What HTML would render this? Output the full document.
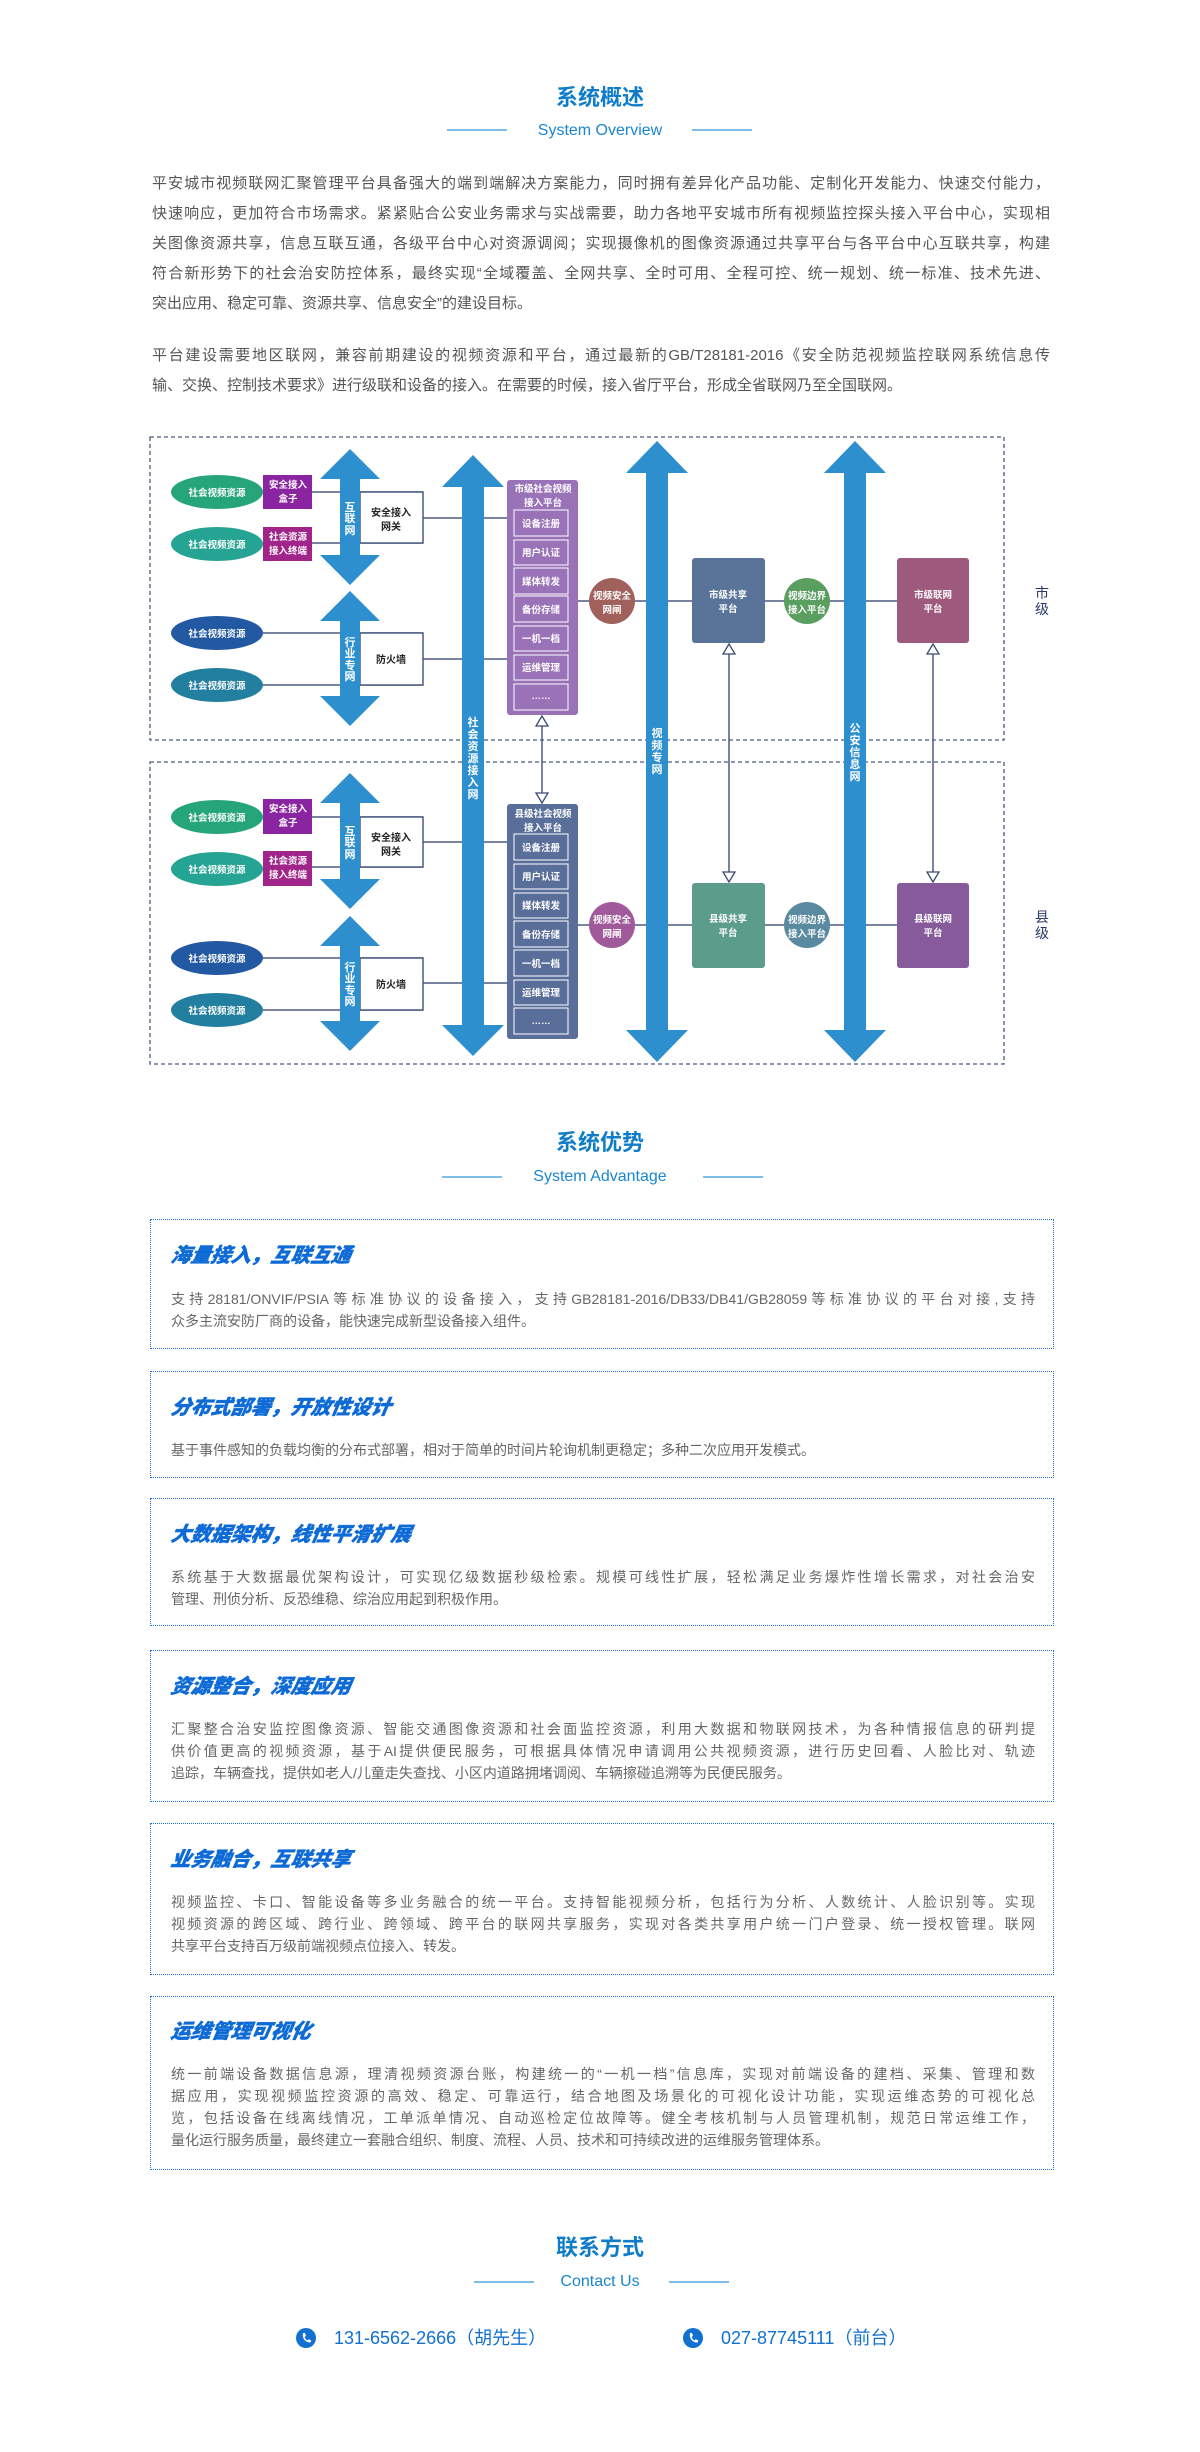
<!DOCTYPE html>
<html><head><meta charset="utf-8">
<style>
*{margin:0;padding:0;box-sizing:border-box}
body{width:1200px;height:2452px;position:relative;background:#fff;font-family:"Liberation Sans","Noto Sans CJK SC",sans-serif;overflow:hidden}
.abs{position:absolute}
.t1{position:absolute;left:0;width:1200px;text-align:center;color:#0f7cc9;font-size:22px;line-height:28px;font-weight:bold}
.t2{position:absolute;left:0;width:1200px;text-align:center;color:#1a86d0;font-size:16px;line-height:20px}
.ln{position:absolute;height:2px;background:#7dbde8}
.p{position:absolute;left:152px;width:898px;color:#555;font-size:15px;line-height:30px}
.p div{text-align:justify;text-align-last:justify;white-space:nowrap}
.p div.l{text-align-last:left}
.box{position:absolute;left:150px;width:904px;border:1px dotted #1f6fd6}
.box h3{position:absolute;left:20px;font-size:20px;font-weight:900;font-style:italic;color:#0d6ad6;line-height:24px;transform:skewX(-10deg);-webkit-text-stroke:0.4px #0d6ad6}
.bt{position:absolute;left:20px;width:864px;color:#666;font-size:14px;line-height:22px}
.bt div{text-align:justify;text-align-last:justify;white-space:nowrap}
.bt div.l{text-align-last:left}
.ph{position:absolute;font-size:18px;color:#1170d0;line-height:24px}
</style></head><body>

<div class="t1" style="top:84px">系统概述</div>
<div class="ln" style="left:447px;width:60px;top:129px"></div>
<div class="ln" style="left:692px;width:60px;top:129px"></div>
<div class="t2" style="top:121px">System Overview</div>

<div class="p" style="top:169px">
<div>平安城市视频联网汇聚管理平台具备强大的端到端解决方案能力，同时拥有差异化产品功能、定制化开发能力、快速交付能力，</div>
<div>快速响应，更加符合市场需求。紧紧贴合公安业务需求与实战需要，助力各地平安城市所有视频监控探头接入平台中心，实现相</div>
<div>关图像资源共享，信息互联互通，各级平台中心对资源调阅；实现摄像机的图像资源通过共享平台与各平台中心互联共享，构建</div>
<div>符合新形势下的社会治安防控体系，最终实现“全域覆盖、全网共享、全时可用、全程可控、统一规划、统一标准、技术先进、</div>
<div class="l">突出应用、稳定可靠、资源共享、信息安全”的建设目标。</div>
</div>
<div class="p" style="top:341px">
<div>平台建设需要地区联网，兼容前期建设的视频资源和平台，通过最新的GB/T28181-2016《安全防范视频监控联网系统信息传</div>
<div class="l">输、交换、控制技术要求》进行级联和设备的接入。在需要的时候，接入省厅平台，形成全省联网乃至全国联网。</div>
</div>

<svg class="abs" style="left:0;top:0" width="1200" height="1080" viewBox="0 0 1200 1080" font-family="Liberation Sans, Noto Sans CJK SC, sans-serif">
<g fill="none" stroke="#4a5a80" stroke-width="1.3" stroke-dasharray="4,3">
<rect x="150" y="437" width="854" height="303"/>
<rect x="150" y="762" width="854" height="302"/>
</g>
<g stroke="#4a5a80" stroke-width="1.5" fill="none">
<line x1="312" y1="492" x2="423" y2="492"/><line x1="312" y1="543" x2="423" y2="543"/>
<line x1="263" y1="633" x2="423" y2="633"/><line x1="263" y1="685" x2="423" y2="685"/>
<line x1="423" y1="518" x2="507" y2="518"/><line x1="423" y1="659" x2="507" y2="659"/>
<line x1="578" y1="601" x2="897" y2="601"/>
<line x1="312" y1="817" x2="423" y2="817"/><line x1="312" y1="867" x2="423" y2="867"/>
<line x1="263" y1="958" x2="423" y2="958"/><line x1="263" y1="1010" x2="423" y2="1010"/>
<line x1="423" y1="842" x2="507" y2="842"/><line x1="423" y1="983" x2="507" y2="983"/>
<line x1="578" y1="925" x2="897" y2="925"/>
<line x1="542" y1="726" x2="542" y2="793"/>
<line x1="729" y1="654" x2="729" y2="872"/>
<line x1="933" y1="654" x2="933" y2="872"/>
</g>
<g fill="#fff" stroke="#3a4a70" stroke-width="1.3">
<polygon points="542,716 536,726 548,726"/><polygon points="542,803 536,793 548,793"/>
<polygon points="729,644 723,654 735,654"/><polygon points="729,882 723,872 735,872"/>
<polygon points="933,644 927,654 939,654"/><polygon points="933,882 927,872 939,872"/>
</g>
<g fill="#fff" stroke="#4a5a80" stroke-width="1.5">
<rect x="360" y="492" width="63" height="51"/><rect x="360" y="633" width="63" height="52"/>
<rect x="360" y="817" width="63" height="50"/><rect x="360" y="958" width="63" height="52"/>
</g>
<g fill="#2e8fcf">
<path d="M350,449 L380,479 L360,479 L360,555 L380,555 L350,585 L320,555 L340,555 L340,479 L320,479Z"/>
<path d="M350,591 L380,621 L360,621 L360,696 L380,696 L350,726 L320,696 L340,696 L340,621 L320,621Z"/>
<path d="M350,773 L380,803 L360,803 L360,879 L380,879 L350,909 L320,879 L340,879 L340,803 L320,803Z"/>
<path d="M350,916 L380,946 L360,946 L360,1021 L380,1021 L350,1051 L320,1021 L340,1021 L340,946 L320,946Z"/>
<path d="M473,455 L504,487 L484,487 L484,1025 L504,1025 L473,1056 L442,1025 L462,1025 L462,487 L442,487Z"/>
<path d="M657,441 L688,473 L668,473 L668,1030 L688,1030 L657,1062 L626,1030 L646,1030 L646,473 L626,473Z"/>
<path d="M855,441 L886,473 L866,473 L866,1030 L886,1030 L855,1062 L824,1030 L844,1030 L844,473 L824,473Z"/>
</g>
<g fill="#fff" font-size="11" font-weight="bold" text-anchor="middle">
<text x="350" y="511">互</text><text x="350" y="522">联</text><text x="350" y="534">网</text>
<text x="350" y="646">行</text><text x="350" y="657">业</text><text x="350" y="669">专</text><text x="350" y="680">网</text>
<text x="350" y="835">互</text><text x="350" y="846">联</text><text x="350" y="858">网</text>
<text x="350" y="971">行</text><text x="350" y="982">业</text><text x="350" y="994">专</text><text x="350" y="1005">网</text>
<text x="473" y="726">社</text><text x="473" y="738">会</text><text x="473" y="750">资</text><text x="473" y="762">源</text><text x="473" y="774">接</text><text x="473" y="786">入</text><text x="473" y="798">网</text>
<text x="657" y="737">视</text><text x="657" y="749">频</text><text x="657" y="761">专</text><text x="657" y="773">网</text>
<text x="855" y="732">公</text><text x="855" y="744">安</text><text x="855" y="756">信</text><text x="855" y="768">息</text><text x="855" y="780">网</text>
</g>
<g fill="#222" font-size="10" font-weight="bold" text-anchor="middle">
<text x="391" y="516">安全接入</text><text x="391" y="530">网关</text>
<text x="391" y="663">防火墙</text>
<text x="391" y="841">安全接入</text><text x="391" y="855">网关</text>
<text x="391" y="988">防火墙</text>
</g>
<ellipse cx="217" cy="492" rx="46" ry="17" fill="#27a57a"/>
<ellipse cx="217" cy="544" rx="46" ry="17" fill="#26a493"/>
<ellipse cx="217" cy="633" rx="46" ry="17" fill="#2358a3"/>
<ellipse cx="217" cy="685" rx="46" ry="17" fill="#237fa0"/>
<ellipse cx="217" cy="817" rx="46" ry="17" fill="#27a57a"/>
<ellipse cx="217" cy="869" rx="46" ry="17" fill="#26a493"/>
<ellipse cx="217" cy="958" rx="46" ry="17" fill="#2358a3"/>
<ellipse cx="217" cy="1010" rx="46" ry="17" fill="#237fa0"/>
<rect x="263" y="475" width="49" height="34" fill="#8a24a0"/>
<rect x="263" y="527" width="49" height="34" fill="#a0248a"/>
<rect x="263" y="799" width="49" height="35" fill="#8a24a0"/>
<rect x="263" y="851" width="49" height="35" fill="#a0248a"/>
<g fill="#fff" font-size="9.5" font-weight="bold" text-anchor="middle">
<text x="217" y="496">社会视频资源</text><text x="217" y="548">社会视频资源</text><text x="217" y="637">社会视频资源</text><text x="217" y="689">社会视频资源</text>
<text x="217" y="821">社会视频资源</text><text x="217" y="873">社会视频资源</text><text x="217" y="962">社会视频资源</text><text x="217" y="1014">社会视频资源</text>
<text x="288" y="488">安全接入</text><text x="288" y="502">盒子</text>
<text x="288" y="540">社会资源</text><text x="288" y="554">接入终端</text>
<text x="288" y="812">安全接入</text><text x="288" y="826">盒子</text>
<text x="288" y="864">社会资源</text><text x="288" y="878">接入终端</text>
</g>
<rect x="507" y="480" width="71" height="235" rx="3" fill="#9a72b8"/>
<rect x="507" y="804" width="71" height="235" rx="3" fill="#5a6e9a"/>
<g fill="none" stroke="#fff" stroke-width="1">
<rect x="514" y="510" width="54" height="26"/><rect x="514" y="540" width="54" height="25"/><rect x="514" y="568" width="54" height="26"/><rect x="514" y="596" width="54" height="26"/><rect x="514" y="626" width="54" height="25"/><rect x="514" y="655" width="54" height="25"/><rect x="514" y="684" width="54" height="26"/>
<rect x="514" y="834" width="54" height="26"/><rect x="514" y="864" width="54" height="25"/><rect x="514" y="893" width="54" height="25"/><rect x="514" y="921" width="54" height="26"/><rect x="514" y="950" width="54" height="26"/><rect x="514" y="980" width="54" height="25"/><rect x="514" y="1008" width="54" height="26"/>
</g>
<g fill="#fff" font-size="9.5" font-weight="bold" text-anchor="middle">
<text x="543" y="492">市级社会视频</text><text x="543" y="506">接入平台</text>
<text x="541" y="527">设备注册</text><text x="541" y="556">用户认证</text><text x="541" y="585">媒体转发</text><text x="541" y="613">备份存储</text><text x="541" y="642">一机一档</text><text x="541" y="671">运维管理</text><text x="541" y="699">……</text>
<text x="543" y="817">县级社会视频</text><text x="543" y="831">接入平台</text>
<text x="541" y="851">设备注册</text><text x="541" y="880">用户认证</text><text x="541" y="909">媒体转发</text><text x="541" y="938">备份存储</text><text x="541" y="967">一机一档</text><text x="541" y="996">运维管理</text><text x="541" y="1024">……</text>
</g>
<circle cx="612" cy="601" r="23" fill="#a0605c"/>
<circle cx="807" cy="601" r="23" fill="#5a9e60"/>
<circle cx="612" cy="925" r="23" fill="#a0599a"/>
<circle cx="807" cy="925" r="23" fill="#5a8aa0"/>
<rect x="692" y="558" width="73" height="85" rx="3" fill="#5a7399"/>
<rect x="897" y="558" width="72" height="85" rx="3" fill="#9e5a7c"/>
<rect x="692" y="883" width="73" height="85" rx="3" fill="#5b9c8a"/>
<rect x="897" y="883" width="72" height="85" rx="3" fill="#875a9c"/>
<g fill="#fff" font-size="9.5" font-weight="bold" text-anchor="middle">
<text x="612" y="599">视频安全</text><text x="612" y="613">网闸</text>
<text x="807" y="599">视频边界</text><text x="807" y="613">接入平台</text>
<text x="728" y="598">市级共享</text><text x="728" y="612">平台</text>
<text x="933" y="598">市级联网</text><text x="933" y="612">平台</text>
<text x="612" y="923">视频安全</text><text x="612" y="937">网闸</text>
<text x="807" y="923">视频边界</text><text x="807" y="937">接入平台</text>
<text x="728" y="922">县级共享</text><text x="728" y="936">平台</text>
<text x="933" y="922">县级联网</text><text x="933" y="936">平台</text>
</g>
<g fill="#2a3a6a" font-size="14" text-anchor="middle">
<text x="1042" y="598">市</text><text x="1042" y="614">级</text>
<text x="1042" y="922">县</text><text x="1042" y="938">级</text>
</g>
</svg>

<div class="t1" style="top:1129px">系统优势</div>
<div class="ln" style="left:442px;width:60px;top:1176px"></div>
<div class="ln" style="left:703px;width:60px;top:1176px"></div>
<div class="t2" style="top:1167px">System Advantage</div>

<div class="box" style="top:1219px;height:130px">
<h3 style="top:24px">海量接入，互联互通</h3>
<div class="bt" style="top:68px"><div>支持28181/ONVIF/PSIA等标准协议的设备接入，支持GB28181-2016/DB33/DB41/GB28059等标准协议的平台对接,支持</div><div class="l">众多主流安防厂商的设备，能快速完成新型设备接入组件。</div></div>
</div>
<div class="box" style="top:1371px;height:107px">
<h3 style="top:24px">分布式部署，开放性设计</h3>
<div class="bt" style="top:67px"><div class="l">基于事件感知的负载均衡的分布式部署，相对于简单的时间片轮询机制更稳定；多种二次应用开发模式。</div></div>
</div>
<div class="box" style="top:1498px;height:128px">
<h3 style="top:24px">大数据架构，线性平滑扩展</h3>
<div class="bt" style="top:67px"><div>系统基于大数据最优架构设计，可实现亿级数据秒级检索。规模可线性扩展，轻松满足业务爆炸性增长需求，对社会治安</div><div class="l">管理、刑侦分析、反恐维稳、综治应用起到积极作用。</div></div>
</div>
<div class="box" style="top:1650px;height:152px">
<h3 style="top:24px">资源整合，深度应用</h3>
<div class="bt" style="top:67px"><div>汇聚整合治安监控图像资源、智能交通图像资源和社会面监控资源，利用大数据和物联网技术，为各种情报信息的研判提</div><div>供价值更高的视频资源，基于AI提供便民服务，可根据具体情况申请调用公共视频资源，进行历史回看、人脸比对、轨迹</div><div class="l">追踪，车辆查找，提供如老人/儿童走失查找、小区内道路拥堵调阅、车辆擦碰追溯等为民便民服务。</div></div>
</div>
<div class="box" style="top:1823px;height:152px">
<h3 style="top:24px">业务融合，互联共享</h3>
<div class="bt" style="top:67px"><div>视频监控、卡口、智能设备等多业务融合的统一平台。支持智能视频分析，包括行为分析、人数统计、人脸识别等。实现</div><div>视频资源的跨区域、跨行业、跨领域、跨平台的联网共享服务，实现对各类共享用户统一门户登录、统一授权管理。联网</div><div class="l">共享平台支持百万级前端视频点位接入、转发。</div></div>
</div>
<div class="box" style="top:1996px;height:174px">
<h3 style="top:23px">运维管理可视化</h3>
<div class="bt" style="top:66px"><div>统一前端设备数据信息源，理清视频资源台账，构建统一的“一机一档”信息库，实现对前端设备的建档、采集、管理和数</div><div>据应用，实现视频监控资源的高效、稳定、可靠运行，结合地图及场景化的可视化设计功能，实现运维态势的可视化总</div><div>览，包括设备在线离线情况，工单派单情况、自动巡检定位故障等。健全考核机制与人员管理机制，规范日常运维工作，</div><div class="l">量化运行服务质量，最终建立一套融合组织、制度、流程、人员、技术和可持续改进的运维服务管理体系。</div></div>
</div>

<div class="t1" style="top:2234px">联系方式</div>
<div class="ln" style="left:474px;width:60px;top:2281px"></div>
<div class="ln" style="left:669px;width:60px;top:2281px"></div>
<div class="t2" style="top:2272px">Contact Us</div>

<svg class="abs" style="left:296px;top:2328px" width="20" height="20" viewBox="0 0 20 20"><circle cx="10" cy="10" r="10" fill="#1170d0"/><path d="M7,5 L9,5 L10,8 L8.6,9 Q9.5,11.5 11.5,12.5 L12.5,11.2 L15,12.3 L15,14 Q13,15.5 9,12.5 Q6,9.5 7,5Z" fill="#fff"/></svg>
<div class="ph" style="left:334px;top:2326px">131-6562-2666（胡先生）</div>
<svg class="abs" style="left:683px;top:2328px" width="20" height="20" viewBox="0 0 20 20"><circle cx="10" cy="10" r="10" fill="#1170d0"/><path d="M7,5 L9,5 L10,8 L8.6,9 Q9.5,11.5 11.5,12.5 L12.5,11.2 L15,12.3 L15,14 Q13,15.5 9,12.5 Q6,9.5 7,5Z" fill="#fff"/></svg>
<div class="ph" style="left:721px;top:2326px">027-87745111（前台）</div>
</body></html>
